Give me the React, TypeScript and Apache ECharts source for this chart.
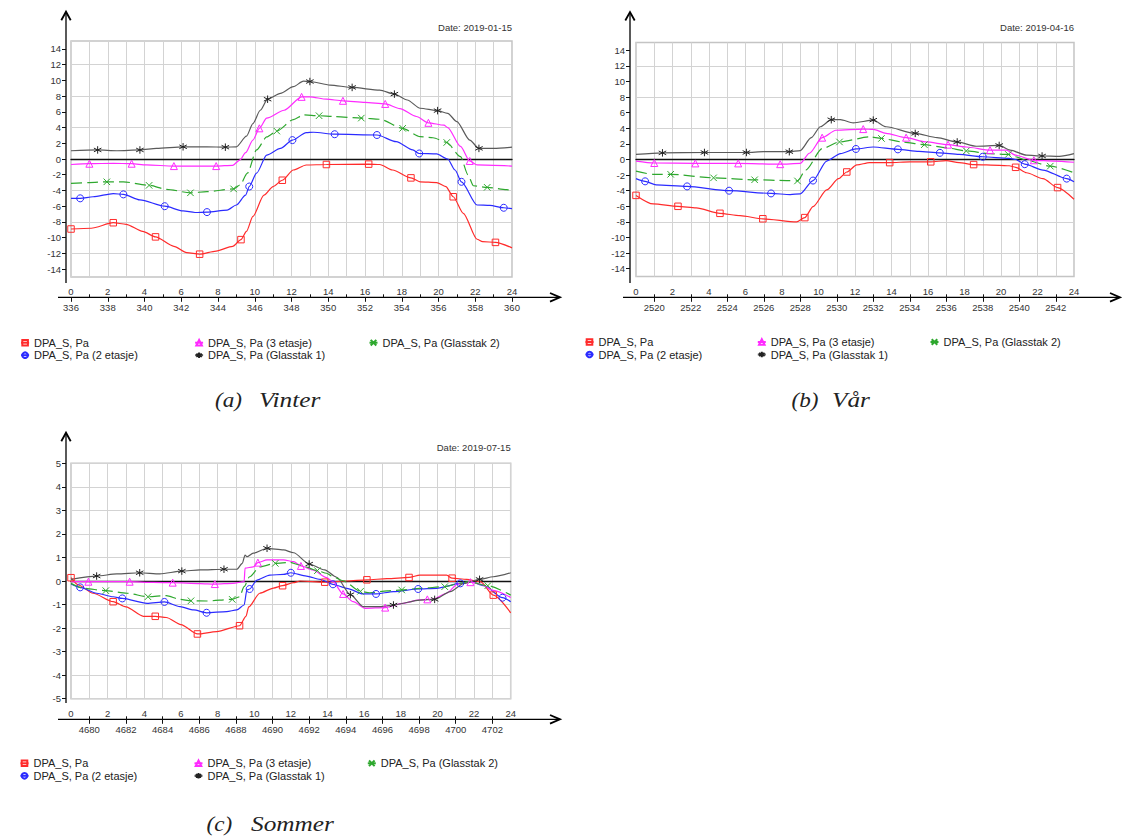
import React, { useEffect, useRef } from 'react';
import * as echarts from 'echarts';

// ---------- names & tick labels ----------
const SERIES_NAMES = [
  'DPA_S, Pa',
  'DPA_S, Pa (2 etasje)',
  'DPA_S, Pa (3 etasje)',
  'DPA_S, Pa (Glasstak 1)',
  'DPA_S, Pa (Glasstak 2)',
];
const DAY_LABELS = [0, 2, 4, 6, 8, 10, 12, 14, 16, 18, 20, 22, 24];
const ODD_HOURS = [1, 3, 5, 7, 9, 11, 13, 15, 17, 19, 21, 23];
const Y_TICKS_WIDE = [-14, -12, -10, -8, -6, -4, -2, 0, 2, 4, 6, 8, 10, 12, 14];
const Y_TICKS_SOMMER = [-5, -4, -3, -2, -1, 0, 1, 2, 3, 4, 5];
const VINTER_HOUR_TICKS = [336, 338, 340, 342, 344, 346, 348, 350, 352, 354, 356, 358, 360];
const VAR_HOUR_TICKS = [2520, 2522, 2524, 2526, 2528, 2530, 2532, 2534, 2536, 2538, 2540, 2542];
const SOMMER_HOUR_TICKS = [4680, 4682, 4684, 4686, 4688, 4690, 4692, 4694, 4696, 4698, 4700, 4702];

// ---------- data: [hour, Pa, marker] ----------
const vinterRed = [
  [0, -8.9, 1], [1.1, -8.8, 0], [2.3, -8.1, 1], [3.0, -8.3, 0], [3.9, -9.2, 0], [4.6, -9.9, 1],
  [5.6, -11.1, 0], [6.3, -11.9, 0], [7.0, -12.1, 1], [7.9, -11.7, 0], [8.8, -11.1, 0], [9.25, -10.25, 1],
  [9.55, -9.2, 0], [9.9, -7.3, 0], [10.5, -4.6, 0], [11.0, -3.5, 0], [11.5, -2.7, 1], [12.1, -1.4, 0],
  [12.8, -0.76, 0], [13.9, -0.7, 1], [16.2, -0.65, 1], [16.8, -0.7, 0], [17.5, -1.4, 0], [18.5, -2.4, 1],
  [19.0, -2.9, 0], [19.9, -3.0, 0], [20.4, -3.5, 0], [20.8, -4.8, 1], [21.35, -6.9, 0], [22.1, -10.2, 0],
  [22.4, -10.5, 0], [23.1, -10.6, 1], [24, -11.3, 0],
];
const vinterBlue = [
  [0, -5.0, 0], [0.5, -5.0, 1], [1.2, -4.8, 0], [2.3, -4.4, 0], [2.85, -4.5, 1], [3.75, -5.2, 0],
  [5.1, -6.0, 1], [6.1, -6.6, 0], [6.75, -6.8, 0], [7.4, -6.75, 1], [8.5, -6.5, 0], [9.0, -5.85, 0],
  [9.5, -4.6, 0], [9.7, -3.5, 1], [10.1, -1.8, 0], [10.65, 0.5, 0], [11.4, 1.35, 0], [12.05, 2.4, 1],
  [12.8, 3.35, 0], [13.2, 3.4, 0], [14.35, 3.15, 1], [16.65, 3.05, 1], [17.7, 2.2, 0], [18.6, 1.15, 0],
  [18.95, 0.7, 1], [19.9, 0.65, 0], [20.5, 0.0, 0], [20.9, -1.4, 0], [21.25, -2.9, 1], [22.1, -5.85, 0],
  [22.8, -5.9, 0], [23.55, -6.2, 1], [24, -6.3, 0],
];
const vinterMagenta = [
  [0, -0.7, 0], [1.0, -0.6, 1], [2.3, -0.55, 0], [3.3, -0.6, 1], [4.1, -0.75, 0], [5.6, -0.9, 1],
  [7.0, -0.9, 0], [7.9, -0.9, 1], [8.8, -0.8, 0], [9.2, -0.1, 0], [9.5, 0.8, 0], [9.9, 2.4, 0],
  [10.25, 3.9, 1], [10.65, 5.2, 0], [11.6, 6.2, 0], [12.55, 7.9, 1], [13.0, 7.9, 0], [13.9, 7.6, 0],
  [14.8, 7.4, 1], [16.0, 7.2, 0], [17.1, 7.0, 1], [17.9, 6.4, 0], [18.8, 5.4, 0], [19.45, 4.6, 1],
  [20.3, 4.3, 0], [20.5, 4.0, 0], [21.2, 1.6, 0], [21.7, -0.25, 1], [22.1, -0.75, 0], [24, -0.9, 0],
];
const vinterBlack = [
  [0, 1.05, 0], [1.45, 1.15, 1], [2.5, 1.05, 0], [3.75, 1.15, 1], [4.65, 1.35, 0], [6.1, 1.55, 1],
  [7.4, 1.55, 0], [8.4, 1.5, 1], [9.0, 1.55, 0], [9.55, 2.9, 0], [9.9, 4.5, 0], [10.3, 6.2, 0],
  [10.7, 7.6, 1], [11.4, 8.35, 0], [12.1, 9.2, 0], [12.65, 9.9, 0], [13.0, 9.85, 1], [14.1, 9.4, 0],
  [15.3, 9.1, 1], [16.8, 8.75, 0], [17.6, 8.25, 1], [18.3, 7.5, 0], [19.0, 6.45, 0], [19.95, 6.15, 1],
  [20.5, 5.8, 0], [21.0, 4.75, 0], [21.7, 2.4, 0], [22.2, 1.35, 1], [23.0, 1.35, 0], [24, 1.5, 0],
];
const vinterGreen = [
  [0, -3.1, 0], [1.0, -3.0, 0], [1.95, -2.9, 1], [2.85, -2.9, 0], [4.25, -3.35, 1], [5.2, -3.85, 0],
  [6.5, -4.3, 1], [7.4, -4.15, 0], [8.85, -3.8, 1], [9.2, -3.3, 0], [9.6, -1.8, 0], [10.1, 1.15, 0],
  [10.65, 2.8, 0], [11.2, 3.55, 1], [12.1, 5.0, 0], [12.65, 5.6, 0], [13.5, 5.5, 1], [14.3, 5.4, 0],
  [15.8, 5.2, 1], [16.8, 5.05, 0], [18.05, 3.9, 1], [19.0, 2.85, 0], [19.7, 2.7, 0], [20.45, 2.1, 1],
  [21.2, 0.3, 0], [21.6, -2.0, 0], [21.9, -3.4, 0], [22.65, -3.6, 1], [23.7, -3.9, 0], [24, -3.95, 0],
];

const varRed = [
  [0, -4.6, 1], [0.95, -5.7, 0], [2.3, -6.0, 1], [3.3, -6.2, 0], [4.6, -6.9, 1], [5.7, -7.2, 0],
  [6.95, -7.6, 1], [8.8, -8.0, 0], [9.25, -7.45, 1], [9.7, -6.05, 0], [10.45, -3.9, 0], [11.1, -2.45, 0],
  [11.55, -1.6, 1], [12.1, -0.7, 0], [12.8, -0.4, 0], [13.9, -0.4, 1], [15.0, -0.3, 0], [16.15, -0.3, 1],
  [17.0, -0.15, 0], [17.7, -0.4, 0], [18.5, -0.65, 1], [19.9, -0.75, 0], [20.45, -0.8, 0], [20.8, -1.0, 1],
  [21.4, -1.7, 0], [22.3, -2.45, 0], [23.1, -3.6, 1], [24, -5.1, 0],
];
const varBlue = [
  [0, -2.45, 0], [0.5, -2.8, 1], [1.1, -3.25, 0], [2.8, -3.45, 1], [5.1, -4.0, 1], [7.4, -4.35, 1],
  [8.45, -4.5, 0], [9.0, -4.4, 0], [9.7, -2.7, 1], [10.45, -0.2, 0], [11.2, 0.75, 0], [12.05, 1.35, 1],
  [13.0, 1.6, 0], [14.35, 1.3, 1], [15.5, 1.05, 0], [16.65, 0.85, 1], [17.7, 0.65, 0], [19.0, 0.35, 1],
  [20.45, 0.15, 0], [20.8, 0.0, 0], [21.3, -0.6, 1], [22.3, -1.35, 0], [23.6, -2.45, 1], [24, -2.85, 0],
];
const varMagenta = [
  [0, -0.2, 0], [1.0, -0.45, 1], [3.25, -0.5, 1], [5.6, -0.5, 1], [7.9, -0.6, 1], [9.0, -0.5, 0],
  [9.5, 0.8, 0], [10.2, 2.8, 1], [10.95, 3.75, 0], [12.45, 3.9, 1], [13.0, 3.85, 0], [13.7, 3.35, 0],
  [14.8, 2.8, 1], [15.9, 2.25, 0], [17.1, 1.9, 1], [18.1, 1.6, 0], [19.4, 1.2, 1], [20.3, 1.2, 0],
  [20.8, 0.55, 0], [21.8, -0.1, 1], [22.9, -0.2, 0], [24, -0.35, 0],
];
const varBlack = [
  [0, 0.65, 0], [1.45, 0.85, 1], [3.75, 0.9, 1], [6.05, 0.9, 1], [7.0, 1.0, 0], [8.4, 1.0, 1],
  [9.0, 1.15, 0], [9.6, 2.8, 0], [10.1, 4.2, 0], [10.7, 5.1, 1], [11.2, 5.1, 0], [11.9, 4.7, 0],
  [13.0, 5.05, 1], [13.7, 4.2, 0], [15.3, 3.35, 1], [16.5, 2.8, 0], [17.6, 2.25, 1], [18.65, 1.7, 0],
  [19.9, 1.8, 1], [20.5, 1.2, 0], [21.4, 0.55, 0], [22.25, 0.45, 1], [23.2, 0.4, 0], [24, 0.75, 0],
];
const varGreen = [
  [0, -1.5, 0], [0.95, -1.9, 0], [1.9, -1.9, 1], [4.25, -2.35, 1], [6.5, -2.6, 1], [8.25, -2.7, 0],
  [8.85, -2.75, 1], [9.3, -1.35, 0], [10.2, 1.4, 0], [11.15, 2.25, 1], [12.8, 2.9, 0], [13.45, 2.7, 1],
  [14.6, 2.25, 0], [15.8, 1.9, 1], [17.0, 1.5, 0], [18.1, 1.1, 1], [19.4, 0.75, 0], [20.4, 0.65, 1],
  [20.8, 0.35, 0], [21.4, -0.1, 0], [22.7, -0.85, 1], [24, -1.7, 0],
];

const sommerRed = [
  [0, 0.14, 1], [0.4, -0.17, 0], [1.2, -0.52, 0], [2.3, -0.88, 1], [3.0, -1.1, 0], [3.95, -1.5, 0],
  [4.6, -1.5, 1], [5.2, -1.55, 0], [6.0, -1.85, 0], [6.9, -2.25, 1], [7.95, -2.15, 0], [9.2, -1.9, 1],
  [9.55, -1.5, 0], [9.7, -1.1, 0], [10.3, -0.52, 0], [11.05, -0.3, 0], [11.55, -0.2, 1], [12.15, -0.07, 0],
  [12.5, 0, 0], [13.85, -0.05, 1], [15.05, 0, 0], [16.15, 0.05, 1], [17.25, 0.1, 0], [18.45, 0.15, 1],
  [19.05, 0.25, 0], [20.5, 0.25, 0], [20.8, 0.12, 1], [21.6, 0.07, 0], [22.35, -0.03, 0], [23.05, -0.6, 1],
  [24, -1.35, 0],
];
const sommerBlue = [
  [0, -0.13, 0], [0.5, -0.27, 1], [1.4, -0.52, 0], [2.3, -0.67, 0], [2.8, -0.74, 1], [4.15, -0.95, 0],
  [5.1, -0.89, 1], [5.95, -1.09, 0], [6.7, -1.23, 0], [7.4, -1.35, 1], [8.5, -1.3, 0], [9.05, -1.23, 0],
  [9.45, -1.02, 0], [9.6, -0.38, 0], [9.75, -0.34, 1], [10.15, 0.04, 0], [10.85, 0.25, 0], [11.6, 0.28, 0],
  [12.0, 0.35, 1], [12.85, 0.21, 0], [13.6, 0.07, 0], [14.3, -0.14, 1], [15.05, -0.31, 0], [15.95, -0.55, 0],
  [16.65, -0.55, 1], [17.6, -0.45, 0], [18.95, -0.34, 1], [19.95, -0.31, 0], [21.25, -0.1, 1], [21.8, -0.03, 0],
  [22.55, -0.2, 0], [23.55, -0.71, 1], [24, -0.88, 0],
];
const sommerMagenta = [
  [0, -0.03, 0], [0.95, -0.03, 1], [3.2, -0.03, 1], [4.5, -0.06, 0], [5.55, -0.07, 1], [7.05, -0.11, 0],
  [7.85, -0.13, 1], [8.85, -0.1, 0], [9.45, -0.03, 0], [9.5, 0.55, 0], [9.95, 0.6, 0], [10.2, 0.78, 1],
  [10.7, 0.9, 0], [11.6, 0.9, 0], [12.15, 0.82, 0], [12.55, 0.64, 1], [13.2, 0.47, 0], [13.95, 0.14, 0],
  [14.3, -0.03, 0], [14.85, -0.55, 1], [15.4, -0.88, 0], [16.05, -1.16, 0], [17.15, -1.13, 1], [18.1, -0.95, 0],
  [19.0, -0.8, 0], [19.45, -0.78, 1], [19.75, -0.78, 0], [20.5, -0.52, 0], [21.1, -0.13, 0], [21.8, -0.05, 1],
  [22.35, -0.13, 0], [23.05, -0.4, 0], [24, -0.7, 0],
];
const sommerBlack = [
  [0, 0.07, 0], [1.4, 0.21, 1], [2.5, 0.3, 0], [3.75, 0.35, 1], [4.85, 0.3, 0], [6.05, 0.42, 1],
  [7.05, 0.47, 0], [8.35, 0.5, 1], [9.05, 0.5, 0], [9.35, 0.75, 0], [9.5, 1.1, 0], [9.6, 1.03, 0],
  [9.95, 1.18, 0], [10.7, 1.39, 1], [11.6, 1.32, 0], [12.15, 1.2, 0], [13.0, 0.72, 1], [13.85, 0.47, 0],
  [14.5, 0.16, 0], [15.25, -0.58, 1], [15.95, -1.09, 0], [16.9, -1.09, 0], [17.6, -1.02, 1], [19.05, -0.81, 0],
  [19.85, -0.78, 1], [20.7, -0.45, 0], [21.45, -0.1, 0], [22.3, 0.07, 1], [23.05, 0.18, 0], [24, 0.35, 0],
];
const sommerGreen = [
  [0, -0.1, 0], [0.67, -0.31, 0], [1.9, -0.41, 1], [3.05, -0.52, 0], [4.2, -0.67, 1], [5.2, -0.62, 0],
  [5.95, -0.78, 0], [6.55, -0.84, 1], [7.4, -0.85, 0], [8.8, -0.78, 1], [9.2, -0.67, 0], [9.45, -0.24, 0],
  [9.75, 0.18, 0], [10.3, 0.6, 0], [11.15, 0.75, 1], [11.95, 0.79, 0], [12.5, 0.68, 0], [13.45, 0.44, 1],
  [13.95, 0.33, 0], [14.3, 0.18, 0], [14.85, 0.01, 0], [15.8, -0.44, 1], [16.3, -0.5, 0], [17.25, -0.42, 0],
  [18.05, -0.38, 1], [19.05, -0.31, 0], [20.4, -0.24, 1], [21.2, -0.1, 0], [21.7, -0.03, 0], [22.75, -0.2, 1],
  [24, -0.6, 0],
];

// ---------- styles ----------
const ASTERISK = 'path://M5,0 L5,10 M0.7,2.5 L9.3,7.5 M0.7,7.5 L9.3,2.5';
const CROSS = 'path://M0,0 L10,10 M0,10 L10,0';
const STYLES = [
  { line: '#ff2b2b', mark: '#ff2b2b', symbol: 'rect', size: 6.5, dash: 'solid' },
  { line: '#2b2bff', mark: '#2b2bff', symbol: 'circle', size: 7, dash: 'solid' },
  { line: '#ff2bff', mark: '#ff2bff', symbol: 'triangle', size: 7, dash: 'solid' },
  { line: '#5a5a5a', mark: '#222222', symbol: ASTERISK, size: 7.5, dash: 'solid' },
  { line: '#2ea82e', mark: '#2ea82e', symbol: CROSS, size: 6.5, dash: [11, 5] },
];
const LEGEND_COLS = [[0, 1], [2, 3], [4]];
const TICK_FONT = { fontSize: 9.5, color: '#333', fontFamily: 'Liberation Sans' };
const GRID_LINE = '#d3d3d3';
const plain = (v: number) => String(v);

const PANELS = [
  {
    series: [vinterRed, vinterBlue, vinterMagenta, vinterBlack, vinterGreen],
    yMin: -15, yMax: 15, yTicks: Y_TICKS_WIDE, yLineColors: ['rgba(0,0,0,0)', GRID_LINE],
    yearMin: 336, yearTicks: VINTER_HOUR_TICKS,
    date: 'Date: 2019-01-15', tag: '(a)', title: 'Vinter',
    L: { left: 71, top: 41, width: 441, height: 236, yAxisX: 66, yTip: 11.7, yBottom: 283,
      xAxisY: 297.3, xStart: 58, xTip: 560, dateY: 27, legendTop: 336.7, legendLefts: [19.8, 193.8, 368.2],
      tagX: 215, titleX: 259, captionY: 399.5 },
  },
  {
    series: [varRed, varBlue, varMagenta, varBlack, varGreen],
    yMin: -15, yMax: 15, yTicks: Y_TICKS_WIDE, yLineColors: ['rgba(0,0,0,0)', GRID_LINE],
    yearMin: 2519, yearTicks: VAR_HOUR_TICKS,
    date: 'Date: 2019-04-16', tag: '(b)', title: 'Vår',
    L: { left: 636, top: 42.5, width: 438, height: 234, yAxisX: 630, yTip: 12, yBottom: 283,
      xAxisY: 297.3, xStart: 623, xTip: 1120, dateY: 27, legendTop: 336, legendLefts: [584.2, 756.5, 929.2],
      tagX: 791.5, titleX: 832, captionY: 399.5 },
  },
  {
    series: [sommerRed, sommerBlue, sommerMagenta, sommerBlack, sommerGreen],
    yMin: -5, yMax: 5, yTicks: Y_TICKS_SOMMER, yLineColors: [GRID_LINE],
    yearMin: 4679, yearTicks: SOMMER_HOUR_TICKS,
    date: 'Date: 2019-07-15', tag: '(c)', title: 'Sommer',
    L: { left: 71, top: 463.3, width: 439.7, height: 235.4, yAxisX: 66, yTip: 432.7, yBottom: 703,
      xAxisY: 719.3, xStart: 58, xTip: 560, dateY: 447.3, legendTop: 757.3, legendLefts: [19.2, 193.2, 366.5],
      tagX: 206.5, titleX: 251, captionY: 824 },
  },
];

function buildOption() {
  const grid: any[] = [];
  const xAxis: any[] = [];
  const yAxis: any[] = [];
  const series: any[] = [];
  const legend: any[] = [];
  const graphic: any[] = [];

  PANELS.forEach((p, gi) => {
    const L = p.L;
    const xOffset = L.xAxisY - (L.top + L.height);
    const yOffset = L.left - L.yAxisX;
    grid.push({
      left: L.left, top: L.top, width: L.width, height: L.height,
      show: true, borderColor: '#c4c4c4', borderWidth: 1.5, backgroundColor: 'rgba(0,0,0,0)',
      containLabel: false, outerBoundsMode: 'none',
    });
    const xBase = xAxis.length;
    xAxis.push({
      gridIndex: gi, type: 'value', min: 0, max: 24, interval: 1, position: 'bottom',
      axisLine: { show: true, onZero: true, lineStyle: { color: '#111', width: 1.3 } },
      axisTick: { show: false }, axisLabel: { show: false },
      splitLine: { show: true, lineStyle: { color: GRID_LINE, width: 1 } },
    });
    xAxis.push({
      gridIndex: gi, type: 'value', min: 0, max: 24, interval: 2, position: 'bottom', offset: xOffset,
      axisLine: { show: false, onZero: false },
      axisTick: { show: true, inside: true, length: 3, customValues: ODD_HOURS, lineStyle: { color: '#111' } },
      axisLabel: { inside: true, margin: 1, customValues: DAY_LABELS, formatter: plain, ...TICK_FONT },
      splitLine: { show: false },
    });
    xAxis.push({
      gridIndex: gi, type: 'value', min: p.yearMin, max: p.yearMin + 24, position: 'bottom', offset: xOffset,
      axisLine: { show: false, onZero: false },
      axisTick: { show: true, length: 4.5, customValues: p.yearTicks, lineStyle: { color: '#111' } },
      axisLabel: { margin: 5, customValues: p.yearTicks, formatter: plain, ...TICK_FONT },
      splitLine: { show: false },
    });
    yAxis.push({
      gridIndex: gi, type: 'value', min: p.yMin, max: p.yMax, interval: 1, position: 'left', offset: yOffset,
      axisLine: { show: false, onZero: false },
      axisTick: { show: true, length: 4, customValues: p.yTicks, lineStyle: { color: '#111' } },
      axisLabel: { margin: 5, customValues: p.yTicks, formatter: plain, ...TICK_FONT },
      splitLine: { show: true, lineStyle: { color: p.yLineColors, width: 1 } },
    });

    p.series.forEach((arr, si) => {
      const st = STYLES[si];
      series.push({
        type: 'line', name: SERIES_NAMES[si], xAxisIndex: xBase, yAxisIndex: gi,
        smooth: 0.25, smoothMonotone: 'x', silent: true, emphasis: { disabled: true },
        symbol: st.symbol, symbolSize: st.size, showSymbol: true,
        lineStyle: { color: st.line, width: 1.2, type: st.dash },
        itemStyle: { color: 'none', borderColor: st.mark, borderWidth: 1 },
        data: arr.map((d) => ({ value: [d[0], d[1]], symbol: d[2] ? st.symbol : 'none' })),
      });
    });

    LEGEND_COLS.forEach((col, ci) => {
      legend.push({
        orient: 'vertical', left: L.legendLefts[ci], top: L.legendTop, padding: 0, itemGap: 0.5,
        itemWidth: 8, itemHeight: 7, selectedMode: false,
        data: col.map((i) => SERIES_NAMES[i]),
        textStyle: { fontSize: 11, color: '#222', fontFamily: 'Liberation Sans', lineHeight: 12 },
      });
    });

    const axisStroke = { stroke: '#000', lineWidth: 1.3 };
    const arrowStroke = { stroke: '#000', lineWidth: 1.8, fill: 'none' };
    graphic.push(
      { type: 'line', silent: true, shape: { x1: L.yAxisX, y1: L.yBottom, x2: L.yAxisX, y2: L.yTip + 1 }, style: axisStroke },
      { type: 'polyline', silent: true, shape: { points: [[L.yAxisX - 4.7, L.yTip + 8.5], [L.yAxisX, L.yTip], [L.yAxisX + 4.7, L.yTip + 8.5]] }, style: arrowStroke },
      { type: 'line', silent: true, shape: { x1: L.xStart, y1: L.xAxisY, x2: L.xTip - 1, y2: L.xAxisY }, style: axisStroke },
      { type: 'polyline', silent: true, shape: { points: [[L.xTip - 10, L.xAxisY - 4.3], [L.xTip, L.xAxisY], [L.xTip - 10, L.xAxisY + 4.3]] }, style: arrowStroke },
      { type: 'text', silent: true, x: L.left + L.width, y: L.dateY,
        style: { text: p.date, align: 'right', verticalAlign: 'middle', fontSize: 9.5, fill: '#333', fontFamily: 'Liberation Sans' } },
      { type: 'text', silent: true, x: L.tagX, y: L.captionY, scaleX: 1.05,
        style: { text: p.tag, verticalAlign: 'middle', fontSize: 22, fontStyle: 'italic', fill: '#222', fontFamily: 'Liberation Serif' } },
      { type: 'text', silent: true, x: L.titleX, y: L.captionY, scaleX: 1.15,
        style: { text: p.title, verticalAlign: 'middle', fontSize: 22, fontStyle: 'italic', fill: '#222', fontFamily: 'Liberation Serif' } },
    );
  });

  return {
    animation: false,
    backgroundColor: '#ffffff',
    textStyle: { fontFamily: 'Liberation Sans' },
    grid, xAxis, yAxis, series, legend, graphic,
  };
}

export default function App() {
  const ref = useRef<HTMLDivElement>(null);
  useEffect(() => {
    if (!ref.current) return;
    const chart = echarts.init(ref.current, undefined, { renderer: 'svg' });
    chart.setOption(buildOption() as any);
    return () => chart.dispose();
  }, []);
  return (
    <div
      ref={ref}
      style={{ position: 'absolute', left: 0, top: 0, width: 1122, height: 836, background: '#fff' }}
    />
  );
}
